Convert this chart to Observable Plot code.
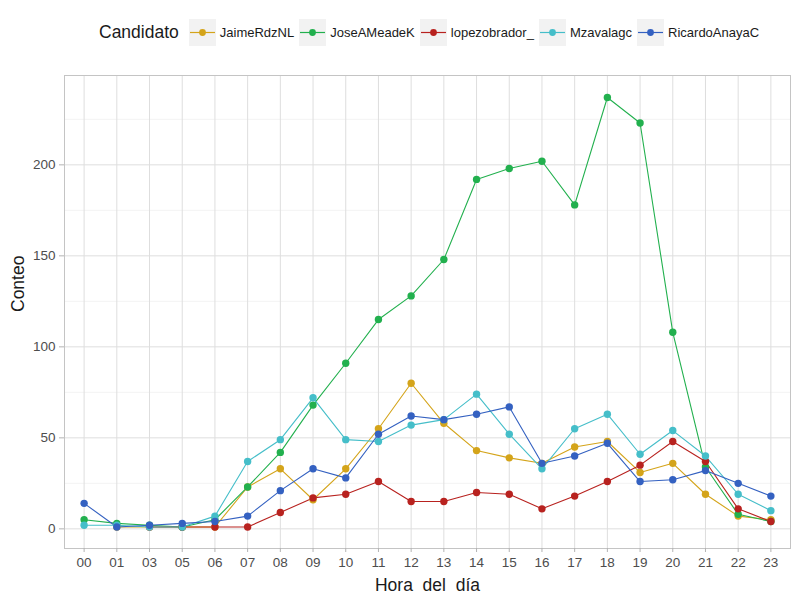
<!DOCTYPE html>
<html><head><meta charset="utf-8">
<script src="https://cdn.jsdelivr.net/npm/d3@7"></script>
<script src="https://cdn.jsdelivr.net/npm/@observablehq/plot@0.6"></script>
<style>
body{margin:0;background:#fff;font-family:"Liberation Sans",Arial,sans-serif;}
#wrap{width:800px;height:600px;position:relative;overflow:hidden;}
#legend{position:relative;height:70px;width:800px;}
#legrow{position:absolute;left:99px;top:19px;height:27px;display:flex;align-items:center;}
#legtitle{font-size:17.5px;color:#1a1a1a;margin-right:10px;}
.key{width:27px;height:27px;background:#f2f2f2;margin-right:4px;}
.lab{font-size:13px;color:#1a1a1a;margin-right:5px;}
svg text{white-space:pre;}
</style></head><body>
<div id="wrap"><div id="legend"><div id="legrow"><span id="legtitle">Candidato</span></div></div><div id="chart"></div></div>
<script>
const hours = ["00","01","03","05","06","07","08","09","10","11","12","13","14","15","16","17","18","19","20","21","22","23"];
const names = ["JaimeRdzNL","JoseAMeadeK","lopezobrador_","Mzavalagc","RicardoAnayaC"];
const colors = ["#D4A41A","#22B04E","#B8221F","#45BEC9","#3461C1"];
const jaime   = [null,1,1,1,1,23,33,16,33,55,80,58,43,39,36,45,48,31,36,19,7,5];
const jose    = [5,3,2,1,5,23,42,68,91,115,128,148,192,198,202,178,237,223,108,34,8,4];
const lopez   = [null,null,1,1,1,1,9,17,19,26,15,15,20,19,11,18,26,35,48,37,11,4];
const mzavala = [2,2,1,1,7,37,49,72,49,48,57,60,74,52,33,55,63,41,54,40,19,10];
const ricardo = [14,1,2,3,4,7,21,33,28,52,62,60,63,67,36,40,47,26,27,32,25,18];
const yMajor = [0,50,100,150,200];
const yMinor = [25,75,125,175,225];
const series = [jaime, jose, lopez, mzavala, ricardo];

const data = [];
names.forEach((n,i)=>series[i].forEach((v,j)=>{ if(v!=null) data.push({hora:hours[j], conteo:v, cand:n}); }));

// legend
const row = document.getElementById("legrow");
names.forEach((n,i)=>{
  const k = document.createElement("div"); k.className="key";
  k.innerHTML = `<svg width="27" height="27"><line x1="1" x2="26" y1="13.5" y2="13.5" stroke="${colors[i]}" stroke-width="1.2"/><circle cx="13.5" cy="13.5" r="3.4" fill="${colors[i]}"/></svg>`;
  const l = document.createElement("span"); l.className="lab"; l.textContent=n;
  row.appendChild(k); row.appendChild(l);
});

const chart = Plot.plot({
  width:800, height:530, marginTop:5, marginBottom:52, marginLeft:64, marginRight:10,
  x:{type:"point", domain:hours, padding:0.6, round:false},
  y:{domain:[-10.8,249.1]},
  color:{domain:names, range:colors},
  style:{fontFamily:'"Liberation Sans",Arial,sans-serif', fontSize:"13.5px", background:"#fff"},
  marks:[
    Plot.gridY(yMinor,{stroke:"#eeeeee", strokeOpacity:1, strokeWidth:0.7}),
    Plot.gridY(yMajor,{stroke:"#dedede", strokeOpacity:1, strokeWidth:1}),
    Plot.gridX(hours,{stroke:"#dedede", strokeOpacity:1, strokeWidth:1}),
    Plot.frame({stroke:"#c4c4c4"}),
    Plot.axisX({tickSize:4, tickPadding:5, stroke:"#b3b3b3", fill:"#4d4d4d", label:null, fontSize:13.5}),
    Plot.axisY(yMajor,{tickSize:5, tickPadding:4, stroke:"#b3b3b3", fill:"#4d4d4d", label:null, fontSize:13.5}),
    Plot.line(data,{x:"hora", y:"conteo", z:"cand", stroke:"cand", strokeWidth:1.1}),
    Plot.dot(data,{x:"hora", y:"conteo", fill:"cand", r:3.7}),
    Plot.text(["Hora  del  día"],{frameAnchor:"bottom", dy:37, fontSize:17.5, fill:"#1a1a1a", lineAnchor:"middle"}),
    Plot.text(["Conteo"],{frameAnchor:"left", dx:-46, rotate:-90, fontSize:17.5, fill:"#1a1a1a", lineAnchor:"middle"})
  ]
});
document.getElementById("chart").appendChild(chart);
</script>
</body></html>
